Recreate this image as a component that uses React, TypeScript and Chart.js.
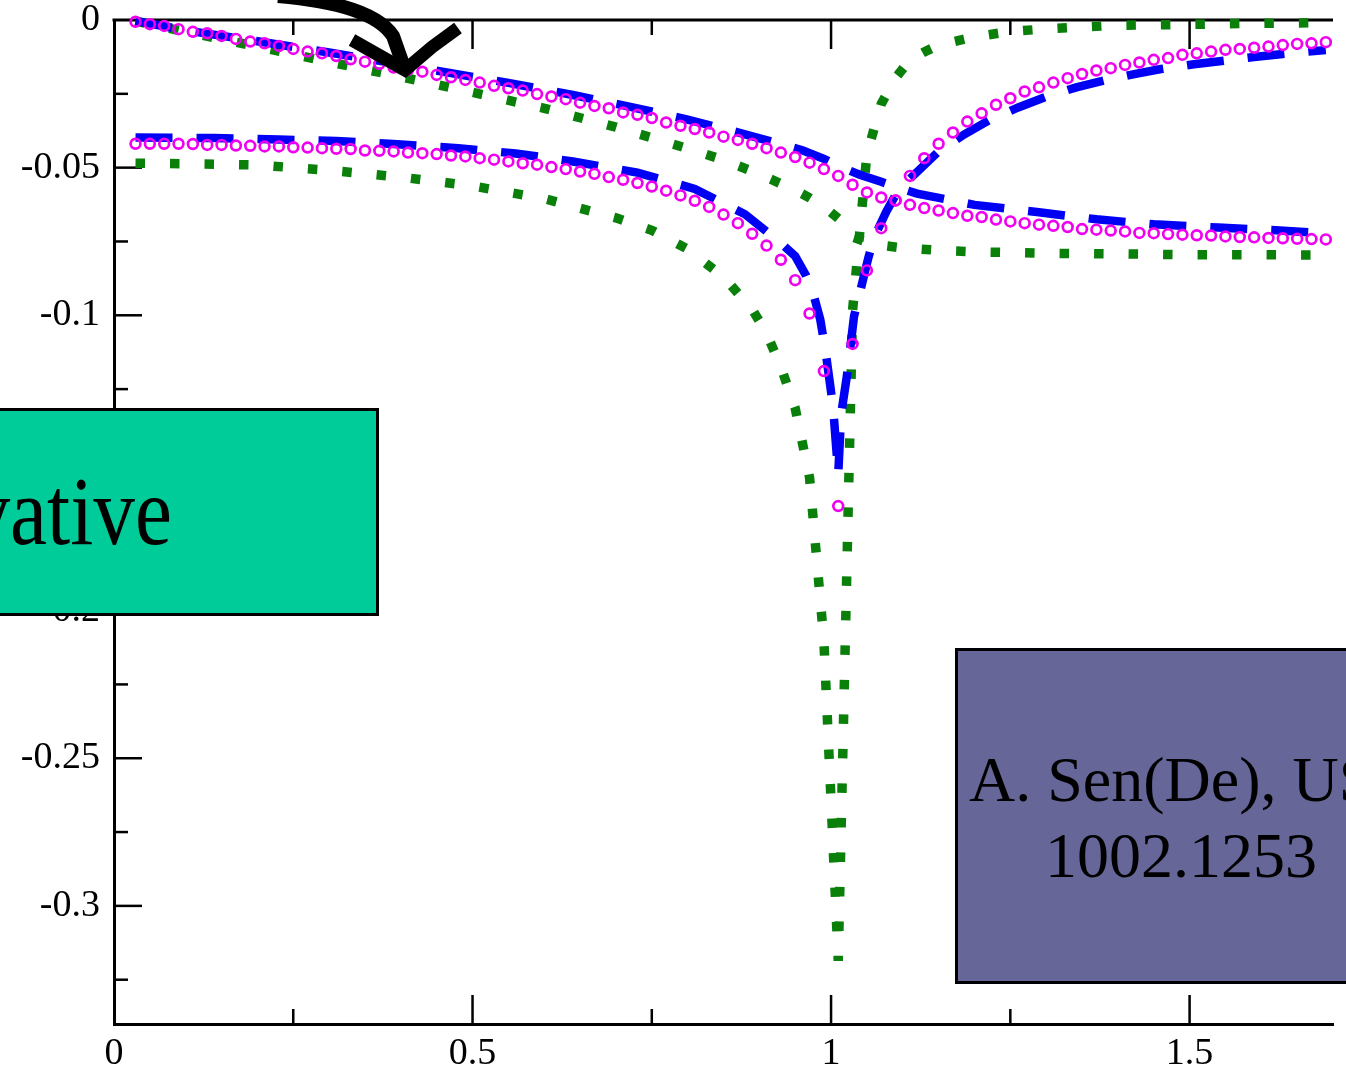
import React, { useEffect, useRef } from 'react';
import { Chart, registerables } from 'chart.js';

Chart.register(...registerables);

// ---------- data ----------
// magenta open circles: one marker per sample, x grid of the source data
const MAGENTA_X = [
  0.03, 0.05, 0.07, 0.09, 0.11, 0.13, 0.15, 0.17, 0.19, 0.21,
  0.23, 0.25, 0.27, 0.29, 0.31, 0.33, 0.35, 0.37, 0.39, 0.41,
  0.43, 0.45, 0.47, 0.49, 0.51, 0.53, 0.55, 0.57, 0.59, 0.61,
  0.63, 0.65, 0.67, 0.69, 0.71, 0.73, 0.75, 0.77, 0.79, 0.81,
  0.83, 0.85, 0.87, 0.89, 0.91, 0.93, 0.95, 0.97, 0.99, 1.01,
  1.03, 1.05, 1.07, 1.09, 1.11, 1.13, 1.15, 1.17, 1.19, 1.21,
  1.23, 1.25, 1.27, 1.29, 1.31, 1.33, 1.35, 1.37, 1.39, 1.41,
  1.43, 1.45, 1.47, 1.49, 1.51, 1.53, 1.55, 1.57, 1.59, 1.61,
  1.63, 1.65, 1.67, 1.69,
];
const MAGENTA_UPPER = [
  -0.0006, -0.0014, -0.0020, -0.0031, -0.0040, -0.0045, -0.0054, -0.0064, -0.0073, -0.0079,
  -0.0088, -0.0098, -0.0107, -0.0113, -0.0122, -0.0133, -0.0141, -0.0149, -0.0161, -0.0169,
  -0.0175, -0.0186, -0.0194, -0.0203, -0.0212, -0.0223, -0.0231, -0.0239, -0.0251, -0.0259,
  -0.0268, -0.0280, -0.0291, -0.0299, -0.0313, -0.0321, -0.0332, -0.0347, -0.0358, -0.0369,
  -0.0381, -0.0395, -0.0406, -0.0419, -0.0434, -0.0449, -0.0464, -0.0483, -0.0505, -0.0528,
  -0.0558, -0.0584, -0.0601, -0.0611, -0.0626, -0.0637, -0.0645, -0.0654, -0.0663, -0.0667,
  -0.0676, -0.0682, -0.0688, -0.0693, -0.0697, -0.0701, -0.0708, -0.0710, -0.0713, -0.0716,
  -0.0721, -0.0722, -0.0725, -0.0727, -0.0729, -0.0730, -0.0733, -0.0735, -0.0736, -0.0738,
  -0.0739, -0.0741, -0.0742, -0.0743,
];
const MAGENTA_LOWER = [
  -0.0419, -0.0419, -0.0419, -0.0419, -0.0420, -0.0423, -0.0423, -0.0425, -0.0426, -0.0428,
  -0.0428, -0.0431, -0.0432, -0.0434, -0.0436, -0.0437, -0.0442, -0.0443, -0.0445, -0.0449,
  -0.0451, -0.0454, -0.0459, -0.0462, -0.0468, -0.0473, -0.0479, -0.0485, -0.0490, -0.0498,
  -0.0505, -0.0513, -0.0521, -0.0532, -0.0541, -0.0552, -0.0564, -0.0578, -0.0594, -0.0612,
  -0.0633, -0.0659, -0.0688, -0.0724, -0.0764, -0.0812, -0.0881, -0.0994, -0.1189, -0.1646,
  -0.1097, -0.0848, -0.0705, -0.0611, -0.0528, -0.0468, -0.0419, -0.0381, -0.0344, -0.0316,
  -0.0287, -0.0265, -0.0242, -0.0228, -0.0212, -0.0197, -0.0183, -0.0171, -0.0163, -0.0152,
  -0.0144, -0.0135, -0.0129, -0.0118, -0.0113, -0.0107, -0.0101, -0.0098, -0.0094, -0.0090,
  -0.0085, -0.0081, -0.0079, -0.0075,
];

// blue dashed lines
const BLUE_UPPER_X = [0.03, 0.1, 0.2, 0.3, 0.4, 0.47, 0.55, 0.64, 0.72, 0.8, 0.88, 0.96, 0.99, 1.01, 1.04, 1.07, 1.09, 1.12, 1.2, 1.29, 1.37, 1.45, 1.54, 1.62, 1.69];
const BLUE_UPPER_Y = [-0.0003, -0.0035, -0.0072, -0.0110, -0.0150, -0.0180, -0.0213, -0.0254, -0.0294, -0.0337, -0.0387, -0.0441, -0.0470, -0.0494, -0.0524, -0.0548, -0.0565, -0.0588, -0.0626, -0.0651, -0.0675, -0.0692, -0.0703, -0.0712, -0.0722];
const BLUE_LOWER_X = [0.03, 0.14, 0.23, 0.31, 0.39, 0.48, 0.56, 0.64, 0.73, 0.81, 0.88, 0.93, 0.95, 0.965, 0.975, 0.985, 0.992, 0.999, 1.003, 1.01, 1.014, 1.022, 1.032, 1.04, 1.052, 1.06, 1.077, 1.094, 1.121, 1.15, 1.186, 1.22, 1.261, 1.3, 1.342, 1.38, 1.423, 1.46, 1.506, 1.55, 1.59, 1.63, 1.674, 1.69];
const BLUE_LOWER_Y = [-0.0398, -0.0400, -0.0405, -0.0410, -0.0420, -0.0434, -0.0452, -0.0479, -0.0517, -0.0572, -0.0658, -0.0755, -0.0800, -0.0865, -0.0925, -0.1015, -0.1116, -0.1241, -0.1315, -0.1539, -0.1336, -0.1207, -0.1004, -0.0925, -0.0805, -0.0737, -0.0649, -0.0575, -0.0512, -0.0445, -0.0387, -0.0340, -0.0296, -0.0260, -0.0228, -0.0205, -0.0183, -0.0166, -0.0150, -0.0137, -0.0125, -0.0115, -0.0105, -0.0102];

// green dotted lines
const GREEN_UPPER_X = [0.03, 0.1, 0.2, 0.3, 0.4, 0.5, 0.6, 0.7, 0.8, 0.85, 0.9, 0.95, 0.97, 0.99, 1.01, 1.03, 1.05, 1.07, 1.1, 1.15, 1.2, 1.3, 1.4, 1.5, 1.6, 1.69];
const GREEN_UPPER_Y = [-0.0004, -0.0040, -0.0090, -0.0142, -0.0192, -0.0245, -0.0299, -0.0363, -0.0435, -0.0474, -0.0522, -0.0576, -0.0602, -0.0632, -0.0672, -0.0735, -0.0752, -0.0763, -0.0772, -0.0780, -0.0785, -0.0790, -0.0792, -0.0795, -0.0795, -0.0796];
const GREEN_LOWER_X = [0.03, 0.1, 0.2, 0.3, 0.4, 0.5, 0.6, 0.7, 0.75, 0.8, 0.85, 0.89, 0.91, 0.93, 0.95, 0.97, 0.99, 1.01, 1.03, 1.05, 1.07, 1.09, 1.11, 1.13, 1.15, 1.2, 1.25, 1.3, 1.4, 1.5, 1.6, 1.69];
const GREEN_LOWER_Y = [-0.0485, -0.0487, -0.0491, -0.0509, -0.0532, -0.0562, -0.0605, -0.0670, -0.0712, -0.0776, -0.0870, -0.0980, -0.1060, -0.1175, -0.1315, -0.1549, -0.2103, -0.3186, -0.0984, -0.0453, -0.0284, -0.0196, -0.0135, -0.0108, -0.0085, -0.0057, -0.0039, -0.0030, -0.0018, -0.0015, -0.0011, -0.0009];

// axis ticks
const X_MIN = 0;
const X_MAX = 1.7;
const Y_MIN = -0.34;
const Y_MAX = 0;
const X_MAJOR_TICKS = [0.5, 1, 1.5];
const X_MINOR_TICKS = [0.25, 0.75, 1.25];
const Y_MAJOR_TICKS = [-0.05, -0.1, -0.15, -0.2, -0.25, -0.3];
const Y_MINOR_TICKS = [-0.025, -0.075, -0.125, -0.175, -0.225, -0.275, -0.325];

const BOX_GREEN_TEXT = 'Derivative';
const BOX_PURPLE_LINE1 = 'A. Sen(De), US';
const BOX_PURPLE_LINE2 = '1002.1253';

const SERIF = "'Liberation Serif', 'Times New Roman', serif";

const toPoints = (xs: number[], ys: number[]) => xs.map((x, i) => ({ x, y: ys[i] }));
const fmt = (v: any) => String(Math.round(Number(v) * 1000) / 1000 || 0);

const frameTicks = {
  id: 'frameTicks',
  beforeDatasetsDraw(chart: any) {
    const { ctx, chartArea, scales } = chart;
    const xs = scales.x;
    const ys = scales.y;
    const { left, right, top, bottom } = chartArea;
    ctx.save();
    ctx.strokeStyle = '#000';
    ctx.lineCap = 'butt';
    ctx.lineWidth = 3;
    ctx.beginPath();
    ctx.moveTo(left - 1.5, top);
    ctx.lineTo(right, top);
    ctx.stroke();
    ctx.lineWidth = 2.5;
    const seg = (x1: number, y1: number, x2: number, y2: number) => {
      ctx.beginPath();
      ctx.moveTo(x1, y1);
      ctx.lineTo(x2, y2);
      ctx.stroke();
    };
    for (const v of X_MAJOR_TICKS) {
      const p = xs.getPixelForValue(v);
      seg(p, bottom, p, bottom - 29);
      seg(p, top, p, top + 29);
    }
    for (const v of X_MINOR_TICKS) {
      const p = xs.getPixelForValue(v);
      seg(p, bottom, p, bottom - 15);
      seg(p, top, p, top + 15);
    }
    for (const v of Y_MAJOR_TICKS) {
      const p = ys.getPixelForValue(v);
      seg(left, p, left + 28, p);
    }
    for (const v of Y_MINOR_TICKS) {
      const p = ys.getPixelForValue(v);
      seg(left, p, left + 14, p);
    }
    ctx.restore();
  },
};

export default function App() {
  const ref = useRef<HTMLCanvasElement | null>(null);

  useEffect(() => {
    if (!ref.current) return;
    const lineCommon = {
      showLine: true,
      pointRadius: 0,
      pointHoverRadius: 0,
      tension: 0,
      fill: false,
      borderCapStyle: 'butt' as const,
      borderJoinStyle: 'miter' as const,
      clip: false as const,
    };
    const markerCommon = {
      showLine: false,
      pointStyle: 'circle' as const,
      pointRadius: 4.9,
      pointHoverRadius: 4.9,
      pointBorderWidth: 2.7,
      pointBorderColor: '#f000f0',
      borderColor: '#f000f0',
      pointBackgroundColor: 'rgba(0,0,0,0)',
      backgroundColor: 'rgba(0,0,0,0)',
      clip: false as const,
    };
    const chart = new Chart(ref.current, {
      type: 'scatter',
      data: {
        datasets: [
          { ...markerCommon, label: 'magenta upper', data: toPoints(MAGENTA_X, MAGENTA_UPPER), order: 0 },
          { ...markerCommon, label: 'magenta lower', data: toPoints(MAGENTA_X, MAGENTA_LOWER), order: 0 },
          { ...lineCommon, label: 'blue upper', data: toPoints(BLUE_UPPER_X, BLUE_UPPER_Y), borderColor: '#0000f5', borderWidth: 8.5, borderDash: [37, 24], order: 1 },
          { ...lineCommon, label: 'blue lower', data: toPoints(BLUE_LOWER_X, BLUE_LOWER_Y), borderColor: '#0000f5', borderWidth: 8.5, borderDash: [37, 24], order: 1 },
          { ...lineCommon, label: 'green upper', data: toPoints(GREEN_UPPER_X, GREEN_UPPER_Y), borderColor: '#0a800a', borderWidth: 9.5, borderDash: [9.5, 25], order: 2 },
          { ...lineCommon, label: 'green lower', data: toPoints(GREEN_LOWER_X, GREEN_LOWER_Y), borderColor: '#0a800a', borderWidth: 9.5, borderDash: [9.5, 25], order: 2 },
        ] as any,
      },
      options: {
        animation: false,
        responsive: false,
        devicePixelRatio: 1,
        events: [],
        layout: { padding: { top: 20, right: 13, left: 0, bottom: 0 } },
        plugins: { legend: { display: false }, tooltip: { enabled: false }, title: { display: false } },
        scales: {
          x: {
            type: 'linear',
            min: X_MIN,
            max: X_MAX,
            grid: { display: false, drawTicks: false },
            border: { display: true, color: '#000', width: 3 },
            ticks: {
              stepSize: 0.5,
              includeBounds: false,
              autoSkip: false,
              maxRotation: 0,
              minRotation: 0,
              padding: 11,
              color: '#000',
              font: { family: SERIF, size: 38, lineHeight: 1 },
              callback: fmt,
            },
            afterFit: (s: any) => { s.height = 48; s.paddingLeft = 0; s.paddingRight = 0; },
          },
          y: {
            type: 'linear',
            min: Y_MIN,
            max: Y_MAX,
            grid: { display: false, drawTicks: false },
            border: { display: true, color: '#000', width: 3 },
            ticks: {
              stepSize: 0.05,
              includeBounds: false,
              autoSkip: false,
              padding: 14,
              color: '#000',
              font: { family: SERIF, size: 38, lineHeight: 1 },
              callback: fmt,
            },
            afterFit: (s: any) => { s.width = 114; s.paddingTop = 0; s.paddingBottom = 0; },
          },
        },
      } as any,
      plugins: [frameTicks],
    });
    return () => chart.destroy();
  }, []);

  return (
    <div style={{ position: 'fixed', left: 0, top: 0, width: 1346, height: 1072, overflow: 'hidden', background: '#fff' }}>
      <canvas ref={ref} width={1346} height={1072} style={{ position: 'absolute', left: 0, top: 0, width: 1346, height: 1072 }} />
      <svg width={1346} height={1072} style={{ position: 'absolute', left: 0, top: 0, pointerEvents: 'none' }}>
        <path d="M 278 -4 Q 372 4 393 36 L 405 70" stroke="#000" strokeWidth={14} fill="none" strokeLinecap="butt" strokeLinejoin="round" />
        <path d="M 352 40 L 405 70 L 432 47 L 458 28" stroke="#000" strokeWidth={13} fill="none" strokeLinecap="butt" strokeLinejoin="miter" />
      </svg>
      <div style={{ position: 'absolute', left: -420, top: 408, width: 799, height: 208, boxSizing: 'border-box', background: '#00cc99', border: '3px solid #000' }} />
      <div style={{ position: 'absolute', left: 172, top: 462, fontFamily: SERIF, fontSize: 98, lineHeight: '98px', color: '#000', whiteSpace: 'nowrap', transform: 'translateX(-100%) scaleX(0.85)', transformOrigin: 'right center' }}>{BOX_GREEN_TEXT}</div>
      <div style={{ position: 'absolute', left: 955, top: 648, width: 500, height: 336, boxSizing: 'border-box', background: '#666699', border: '3px solid #000' }} />
      <div style={{ position: 'absolute', left: 969, top: 748, fontFamily: SERIF, fontSize: 64, lineHeight: '64px', color: '#000', whiteSpace: 'nowrap' }}>{BOX_PURPLE_LINE1}</div>
      <div style={{ position: 'absolute', left: 1045, top: 824, fontFamily: SERIF, fontSize: 64, lineHeight: '64px', color: '#000', whiteSpace: 'nowrap' }}>{BOX_PURPLE_LINE2}</div>
    </div>
  );
}
